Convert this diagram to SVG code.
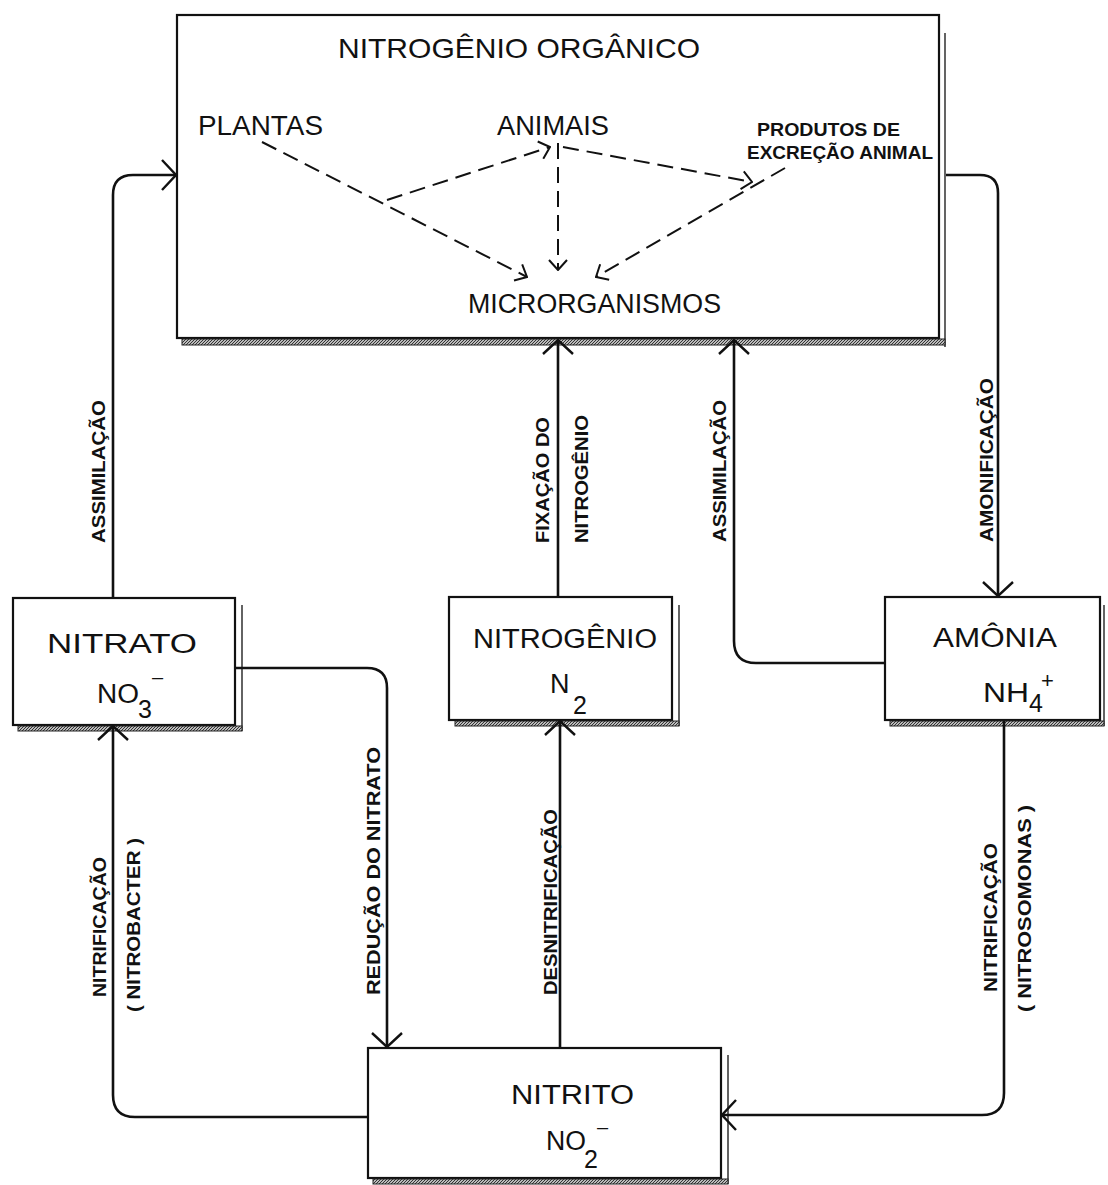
<svg xmlns="http://www.w3.org/2000/svg" width="1108" height="1185" viewBox="0 0 1108 1185">
<defs>
<style>
.box{fill:none;stroke:#111;stroke-width:2.2}
.sh{stroke:#222;stroke-width:1.4;fill:none}
.band{fill:url(#hatch);stroke:#222;stroke-width:1}
.ln{fill:none;stroke:#111;stroke-width:2.6;marker-end:url(#arr)}
.dl{fill:none;stroke:#111;stroke-width:2;stroke-dasharray:16 8;marker-end:url(#darr)}
.t{font-family:"Liberation Sans",Arial,sans-serif;fill:#111}
.big{font-size:27px}
.lab{font-size:18px;font-weight:bold}
.sm{font-size:19px;font-weight:bold}
</style>
<pattern id="hatch" patternUnits="userSpaceOnUse" width="3" height="3">
<rect width="3" height="3" fill="#bbb"/>
<path d="M0,3 L3,0" stroke="#333" stroke-width="1"/>
</pattern>
<marker id="arr" markerUnits="userSpaceOnUse" viewBox="0 0 16 32" refX="15" refY="16" markerWidth="16" markerHeight="32" orient="auto">
<path d="M1,1 L15,16 L1,31" fill="none" stroke="#111" stroke-width="2.4"/>
</marker>
<marker id="darr" markerUnits="userSpaceOnUse" viewBox="0 0 12 20" refX="11" refY="10" markerWidth="12" markerHeight="20" orient="auto">
<path d="M1,1 L11,10 L1,19" fill="none" stroke="#111" stroke-width="2"/>
</marker>
</defs>

<g id="organico">
<rect class="box" x="177" y="15" width="762" height="323"/>
<line class="sh" x1="945" y1="33" x2="945" y2="347"/>
<rect class="band" x="182" y="339" width="763" height="6"/>
<text class="t" x="338" y="58" font-size="28" textLength="362" lengthAdjust="spacingAndGlyphs">NITROGÊNIO  ORGÂNICO</text>
<text class="t big" x="198" y="135" textLength="125" lengthAdjust="spacingAndGlyphs">PLANTAS</text>
<text class="t big" x="497" y="135" textLength="112" lengthAdjust="spacingAndGlyphs">ANIMAIS</text>
<text class="t sm" x="757" y="136" textLength="143" lengthAdjust="spacingAndGlyphs">PRODUTOS DE</text>
<text class="t sm" x="747" y="159" textLength="186" lengthAdjust="spacingAndGlyphs">EXCREÇÃO ANIMAL</text>
<text class="t big" x="468" y="313" textLength="253" lengthAdjust="spacingAndGlyphs">MICRORGANISMOS</text>
<g id="internal">
<path class="dl" d="M262,142 L527,277"/>
<path class="dl" d="M387,200 L550,147"/>
<path class="dl" d="M558,143 L558,270"/>
<path class="dl" d="M563,147 L752,182"/>
<path class="dl" d="M785,168 L596,277"/>
</g>
</g>

<g id="nitrato">
<rect class="box" x="13" y="598" width="222" height="127"/>
<line class="sh" x1="242" y1="605" x2="242" y2="731"/>
<rect class="band" x="18" y="726" width="224" height="5"/>
<text class="t big" x="47" y="653" textLength="150" lengthAdjust="spacingAndGlyphs">NITRATO</text>
<text class="t big"><tspan x="97" y="703" textLength="42" lengthAdjust="spacingAndGlyphs">NO</tspan><tspan x="138" y="718" font-size="25">3</tspan><tspan x="152" y="684" font-size="20">–</tspan></text>
</g>

<g id="nitrogenio">
<rect class="box" x="449" y="597" width="223" height="123"/>
<line class="sh" x1="679" y1="605" x2="679" y2="726"/>
<rect class="band" x="455" y="721" width="224" height="5"/>
<text class="t big" x="473" y="648" textLength="184" lengthAdjust="spacingAndGlyphs">NITROGÊNIO</text>
<text class="t big"><tspan x="550" y="693">N</tspan><tspan x="573" y="714" font-size="25">2</tspan></text>
</g>

<g id="amonia">
<rect class="box" x="885" y="597" width="215" height="123"/>
<line class="sh" x1="1104" y1="605" x2="1104" y2="726"/>
<rect class="band" x="890" y="721" width="214" height="5"/>
<text class="t big" x="933" y="647" textLength="124" lengthAdjust="spacingAndGlyphs">AMÔNIA</text>
<text class="t big"><tspan x="983" y="702" textLength="46" lengthAdjust="spacingAndGlyphs">NH</tspan><tspan x="1029" y="712" font-size="25">4</tspan><tspan x="1041" y="688" font-size="22">+</tspan></text>
</g>

<g id="nitrito">
<rect class="box" x="368" y="1048" width="353" height="130"/>
<line class="sh" x1="728" y1="1055" x2="728" y2="1184"/>
<rect class="band" x="373" y="1179" width="355" height="5"/>
<text class="t big" x="511" y="1104" textLength="123" lengthAdjust="spacingAndGlyphs">NITRITO</text>
<text class="t big"><tspan x="546" y="1150" textLength="40" lengthAdjust="spacingAndGlyphs">NO</tspan><tspan x="584" y="1168" font-size="25">2</tspan><tspan x="597" y="1134" font-size="20">–</tspan></text>
</g>

<g id="connectors">
<path class="ln" d="M113,598 V195 Q113,175 133,175 H176"/>
<path class="ln" d="M946,175 H980 Q998,175 998,193 V596"/>
<path class="ln" d="M558,597 V340"/>
<path class="ln" d="M885,663 H756 Q734,663 734,641 V340"/>
<path class="ln" d="M236,668 H367 Q387,668 387,688 V1047"/>
<path class="ln" d="M368,1117 H135 Q113,1117 113,1095 V726"/>
<path class="ln" d="M560,1048 V721"/>
<path class="ln" d="M1004,721 V1093 Q1004,1115 982,1115 H722"/>
</g>

<g id="labels">
<text class="t lab" transform="translate(105,543) rotate(-90)" textLength="143" lengthAdjust="spacingAndGlyphs">ASSIMILAÇÃO</text>
<text class="t lab" transform="translate(549,543) rotate(-90)" textLength="126" lengthAdjust="spacingAndGlyphs">FIXAÇÃO DO</text>
<text class="t lab" transform="translate(588,543) rotate(-90)" textLength="128" lengthAdjust="spacingAndGlyphs">NITROGÊNIO</text>
<text class="t lab" transform="translate(726,542) rotate(-90)" textLength="142" lengthAdjust="spacingAndGlyphs">ASSIMILAÇÃO</text>
<text class="t lab" transform="translate(993,542) rotate(-90)" textLength="164" lengthAdjust="spacingAndGlyphs">AMONIFICAÇÃO</text>
<text class="t lab" transform="translate(106,997) rotate(-90)" textLength="140" lengthAdjust="spacingAndGlyphs">NITRIFICAÇÃO</text>
<text class="t lab" transform="translate(140,1012) rotate(-90)" textLength="174" lengthAdjust="spacingAndGlyphs">( NITROBACTER )</text>
<text class="t lab" transform="translate(380,995) rotate(-90)" textLength="248" lengthAdjust="spacingAndGlyphs">REDUÇÃO  DO  NITRATO</text>
<text class="t lab" transform="translate(557,995) rotate(-90)" textLength="186" lengthAdjust="spacingAndGlyphs">DESNITRIFICAÇÃO</text>
<text class="t lab" transform="translate(997,992) rotate(-90)" textLength="149" lengthAdjust="spacingAndGlyphs">NITRIFICAÇÃO</text>
<text class="t lab" transform="translate(1031,1012) rotate(-90)" textLength="207" lengthAdjust="spacingAndGlyphs">( NITROSOMONAS )</text>
</g>
</svg>
